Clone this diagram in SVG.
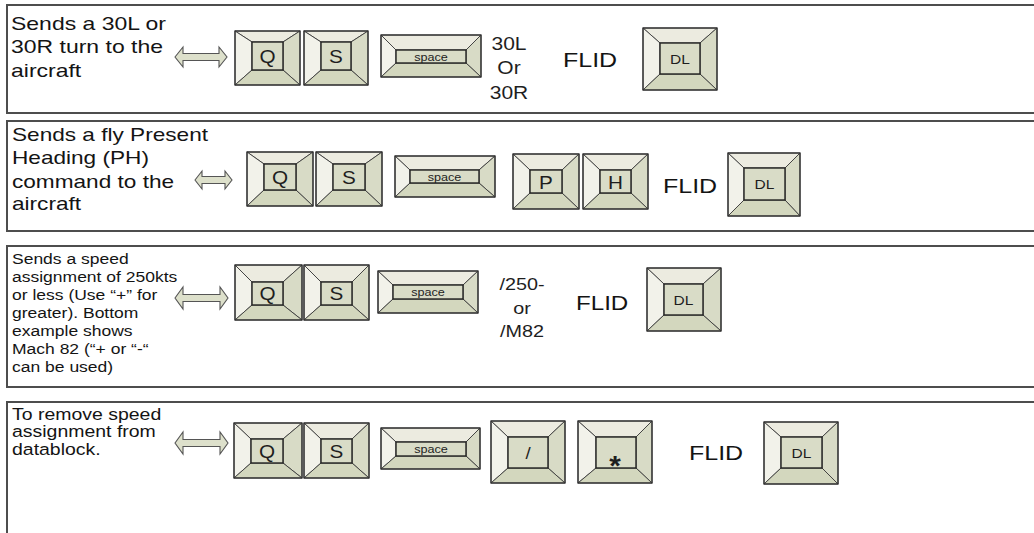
<svg xmlns="http://www.w3.org/2000/svg" width="1034" height="533" viewBox="0 0 1034 533">
<style>
.row{fill:#fff;stroke:#4d4d4d;stroke-width:2}
.kt{fill:#ecebe0;stroke:#3a3a3a;stroke-width:0.9}
.kl{fill:#f2f2ea;stroke:#3a3a3a;stroke-width:0.9}
.kr{fill:#d8dbc6;stroke:#3a3a3a;stroke-width:0.9}
.kb{fill:#d3d7be;stroke:#3a3a3a;stroke-width:0.9}
.kf{fill:#d9dcc7;stroke:#222;stroke-width:1.4}
.ko{fill:none;stroke:#333;stroke-width:1.3}
.t{font-family:"Liberation Sans",Arial,sans-serif;fill:#141414}
.kt1{font-family:"Liberation Sans",Arial,sans-serif;fill:#1e1e1e;text-anchor:middle}
.arr{fill:#dde0cb;stroke:#555;stroke-width:1.1}
</style>

<g id="rows">
<rect class="row" x="7" y="5" width="1040" height="108"/>
<rect class="row" x="7" y="121" width="1040" height="110"/>
<rect class="row" x="7" y="246" width="1040" height="141"/>
<rect class="row" x="7" y="402" width="1040" height="150"/>
</g>

<g id="connectors">
<path class="arr" d="M175,57 L183,47 L183,53.5 L219,53.5 L219,47 L227,57 L219,67 L219,60.5 L183,60.5 L183,67 Z"/>
<path class="arr" d="M195,180 L202,171 L202,176.5 L225,176.5 L225,171 L232,180 L225,189 L225,183.5 L202,183.5 L202,189 Z"/>
<path class="arr" d="M175,298 L183,287 L183,294.5 L220,294.5 L220,287 L228,298 L220,309 L220,301.5 L183,301.5 L183,309 Z"/>
<path class="arr" d="M175,443 L183,432 L183,439.5 L220,439.5 L220,432 L228,443 L220,454 L220,446.5 L183,446.5 L183,454 Z"/>
</g>

<!-- Row 1 -->
<g id="desc1"><text class="t" font-size="19" transform="translate(11,30) scale(1.21,1)"><tspan x="0" y="0">Sends a 30L or</tspan><tspan x="0" y="23.5">30R turn to the</tspan><tspan x="0" y="47">aircraft</tspan></text></g>
<g id="r1-q">
<polygon class="kt" points="235,31 300,31 283,42 252,42"/><polygon class="kl" points="235,31 252,42 252,70 235,85"/><polygon class="kr" points="300,31 300,85 283,70 283,42"/><polygon class="kb" points="235,85 252,70 283,70 300,85"/><rect class="kf" x="252" y="42" width="31" height="28"/><rect class="ko" x="235" y="31" width="65" height="54"/>
<text class="kt1" font-size="18" transform="translate(267.5,62.5) scale(1.15,1)">Q</text></g>
<g id="r1-s">
<polygon class="kt" points="304,31 368,31 351,42 321,42"/><polygon class="kl" points="304,31 321,42 321,70 304,85"/><polygon class="kr" points="368,31 368,85 351,70 351,42"/><polygon class="kb" points="304,85 321,70 351,70 368,85"/><rect class="kf" x="321" y="42" width="30" height="28"/><rect class="ko" x="304" y="31" width="64" height="54"/>
<text class="kt1" font-size="18" transform="translate(336,62.5) scale(1.15,1)">S</text></g>
<g id="r1-space">
<polygon class="kt" points="381,35 481,35 466,50 396,50"/><polygon class="kl" points="381,35 396,50 396,63 381,77"/><polygon class="kr" points="481,35 481,77 466,63 466,50"/><polygon class="kb" points="381,77 396,63 466,63 481,77"/><rect class="kf" x="396" y="50" width="70" height="13"/><rect class="ko" x="381" y="35" width="100" height="42"/>
<text class="kt1" font-size="11" transform="translate(431,60.5) scale(1.15,1)">space</text></g>
<g id="r1-val"><text class="kt1" font-size="17.5" transform="translate(509,0) scale(1.2,1)"><tspan x="0" y="50">30L</tspan><tspan x="0" y="74">Or</tspan><tspan x="0" y="99">30R</tspan></text></g>
<g id="r1-flid"><text class="t" font-size="21" transform="translate(563,67) scale(1.19,1)">FLID</text></g>
<g id="r1-dl">
<polygon class="kt" points="643,28 717,28 700,43 660,43"/><polygon class="kl" points="643,28 660,43 660,74 643,90"/><polygon class="kr" points="717,28 717,90 700,74 700,43"/><polygon class="kb" points="643,90 660,74 700,74 717,90"/><rect class="kf" x="660" y="43" width="40" height="31"/><rect class="ko" x="643" y="28" width="74" height="62"/>
<text class="kt1" font-size="13.5" transform="translate(680,63.5) scale(1.15,1)">DL</text></g>

<!-- Row 2 -->
<g id="desc2"><text class="t" font-size="19" transform="translate(12,141) scale(1.19,1)"><tspan x="0" y="0">Sends a fly Present</tspan><tspan x="0" y="23">Heading (PH)</tspan><tspan x="0" y="47">command to the</tspan><tspan x="0" y="69">aircraft</tspan></text></g>
<g id="r2-q">
<polygon class="kt" points="247,152 313,152 296,164 264,164"/><polygon class="kl" points="247,152 264,164 264,190 247,206"/><polygon class="kr" points="313,152 313,206 296,190 296,164"/><polygon class="kb" points="247,206 264,190 296,190 313,206"/><rect class="kf" x="264" y="164" width="32" height="26"/><rect class="ko" x="247" y="152" width="66" height="54"/>
<text class="kt1" font-size="18" transform="translate(280,183.5) scale(1.15,1)">Q</text></g>
<g id="r2-s">
<polygon class="kt" points="316,152 382,152 365,164 333,164"/><polygon class="kl" points="316,152 333,164 333,190 316,206"/><polygon class="kr" points="382,152 382,206 365,190 365,164"/><polygon class="kb" points="316,206 333,190 365,190 382,206"/><rect class="kf" x="333" y="164" width="32" height="26"/><rect class="ko" x="316" y="152" width="66" height="54"/>
<text class="kt1" font-size="18" transform="translate(349,183.5) scale(1.15,1)">S</text></g>
<g id="r2-space">
<polygon class="kt" points="395,156 495,156 479,170 410,170"/><polygon class="kl" points="395,156 410,170 410,183 395,197"/><polygon class="kr" points="495,156 495,197 479,183 479,170"/><polygon class="kb" points="395,197 410,183 479,183 495,197"/><rect class="kf" x="410" y="170" width="69" height="13"/><rect class="ko" x="395" y="156" width="100" height="41"/>
<text class="kt1" font-size="11" transform="translate(444.5,180.5) scale(1.15,1)">space</text></g>
<g id="r2-p">
<polygon class="kt" points="513,154 579,154 562,170 530,170"/><polygon class="kl" points="513,154 530,170 530,193 513,209"/><polygon class="kr" points="579,154 579,209 562,193 562,170"/><polygon class="kb" points="513,209 530,193 562,193 579,209"/><rect class="kf" x="530" y="170" width="32" height="23"/><rect class="ko" x="513" y="154" width="66" height="55"/>
<text class="kt1" font-size="18" transform="translate(546,188.5) scale(1.15,1)">P</text></g>
<g id="r2-h">
<polygon class="kt" points="583,154 648,154 631,170 600,170"/><polygon class="kl" points="583,154 600,170 600,193 583,209"/><polygon class="kr" points="648,154 648,209 631,193 631,170"/><polygon class="kb" points="583,209 600,193 631,193 648,209"/><rect class="kf" x="600" y="170" width="31" height="23"/><rect class="ko" x="583" y="154" width="65" height="55"/>
<text class="kt1" font-size="18" transform="translate(615.5,188.5) scale(1.15,1)">H</text></g>
<g id="r2-flid"><text class="t" font-size="21" transform="translate(663,193) scale(1.19,1)">FLID</text></g>
<g id="r2-dl">
<polygon class="kt" points="728,153 800,153 785,168 744,168"/><polygon class="kl" points="728,153 744,168 744,200 728,216"/><polygon class="kr" points="800,153 800,216 785,200 785,168"/><polygon class="kb" points="728,216 744,200 785,200 800,216"/><rect class="kf" x="744" y="168" width="41" height="32"/><rect class="ko" x="728" y="153" width="72" height="63"/>
<text class="kt1" font-size="13.5" transform="translate(764.5,189) scale(1.15,1)">DL</text></g>

<!-- Row 3 -->
<g id="desc3"><text class="t" font-size="15.5" transform="translate(12,264) scale(1.13,1)"><tspan x="0" y="0">Sends a speed</tspan><tspan x="0" y="18">assignment of 250kts</tspan><tspan x="0" y="36">or less (Use “+” for</tspan><tspan x="0" y="54">greater). Bottom</tspan><tspan x="0" y="72">example shows</tspan><tspan x="0" y="90">Mach 82 (“+ or “-“</tspan><tspan x="0" y="108">can be used)</tspan></text></g>
<g id="r3-q">
<polygon class="kt" points="235,265 302,265 283,282 252,282"/><polygon class="kl" points="235,265 252,282 252,305 235,320"/><polygon class="kr" points="302,265 302,320 283,305 283,282"/><polygon class="kb" points="235,320 252,305 283,305 302,320"/><rect class="kf" x="252" y="282" width="31" height="23"/><rect class="ko" x="235" y="265" width="67" height="55"/>
<text class="kt1" font-size="18" transform="translate(267.5,300) scale(1.15,1)">Q</text></g>
<g id="r3-s">
<polygon class="kt" points="304,265 369,265 352,282 321,282"/><polygon class="kl" points="304,265 321,282 321,305 304,320"/><polygon class="kr" points="369,265 369,320 352,305 352,282"/><polygon class="kb" points="304,320 321,305 352,305 369,320"/><rect class="kf" x="321" y="282" width="31" height="23"/><rect class="ko" x="304" y="265" width="65" height="55"/>
<text class="kt1" font-size="18" transform="translate(336.5,300) scale(1.15,1)">S</text></g>
<g id="r3-space">
<polygon class="kt" points="378,271 478,271 463,285 393,285"/><polygon class="kl" points="378,271 393,285 393,299 378,313"/><polygon class="kr" points="478,271 478,313 463,299 463,285"/><polygon class="kb" points="378,313 393,299 463,299 478,313"/><rect class="kf" x="393" y="285" width="70" height="14"/><rect class="ko" x="378" y="271" width="100" height="42"/>
<text class="kt1" font-size="11" transform="translate(428,295.5) scale(1.15,1)">space</text></g>
<g id="r3-val"><text class="kt1" font-size="16.5" transform="translate(522,0) scale(1.2,1)"><tspan x="0" y="290">/250-</tspan><tspan x="0" y="314">or</tspan><tspan x="0" y="337">/M82</tspan></text></g>
<g id="r3-flid"><text class="t" font-size="21" transform="translate(576,310) scale(1.15,1)">FLID</text></g>
<g id="r3-dl">
<polygon class="kt" points="647,268 721,268 703,284 664,284"/><polygon class="kl" points="647,268 664,284 664,315 647,331"/><polygon class="kr" points="721,268 721,331 703,315 703,284"/><polygon class="kb" points="647,331 664,315 703,315 721,331"/><rect class="kf" x="664" y="284" width="39" height="31"/><rect class="ko" x="647" y="268" width="74" height="63"/>
<text class="kt1" font-size="13.5" transform="translate(683.5,304.5) scale(1.15,1)">DL</text></g>

<!-- Row 4 -->
<g id="desc4"><text class="t" font-size="16.5" transform="translate(12,420) scale(1.18,1)"><tspan x="0" y="0">To remove speed</tspan><tspan x="0" y="17.5">assignment from</tspan><tspan x="0" y="35">datablock.</tspan></text></g>
<g id="r4-q">
<polygon class="kt" points="234,423 302,423 283,439 251,439"/><polygon class="kl" points="234,423 251,439 251,463 234,478"/><polygon class="kr" points="302,423 302,478 283,463 283,439"/><polygon class="kb" points="234,478 251,463 283,463 302,478"/><rect class="kf" x="251" y="439" width="32" height="24"/><rect class="ko" x="234" y="423" width="68" height="55"/>
<text class="kt1" font-size="18" transform="translate(267,458) scale(1.15,1)">Q</text></g>
<g id="r4-s">
<polygon class="kt" points="304,423 369,423 352,439 321,439"/><polygon class="kl" points="304,423 321,439 321,463 304,478"/><polygon class="kr" points="369,423 369,478 352,463 352,439"/><polygon class="kb" points="304,478 321,463 352,463 369,478"/><rect class="kf" x="321" y="439" width="31" height="24"/><rect class="ko" x="304" y="423" width="65" height="55"/>
<text class="kt1" font-size="18" transform="translate(336.5,458) scale(1.15,1)">S</text></g>
<g id="r4-space">
<polygon class="kt" points="381,428 480,428 466,442 396,442"/><polygon class="kl" points="381,428 396,442 396,456 381,469"/><polygon class="kr" points="480,428 480,469 466,456 466,442"/><polygon class="kb" points="381,469 396,456 466,456 480,469"/><rect class="kf" x="396" y="442" width="70" height="14"/><rect class="ko" x="381" y="428" width="99" height="41"/>
<text class="kt1" font-size="11" transform="translate(431,452.5) scale(1.15,1)">space</text></g>
<g id="r4-slash">
<polygon class="kt" points="491,421 565,421 548,437 508,437"/><polygon class="kl" points="491,421 508,437 508,468 491,483"/><polygon class="kr" points="565,421 565,483 548,468 548,437"/><polygon class="kb" points="491,483 508,468 548,468 565,483"/><rect class="kf" x="508" y="437" width="40" height="31"/><rect class="ko" x="491" y="421" width="74" height="62"/>
<text class="kt1" font-size="17" transform="translate(528,459) scale(1.1,1)">/</text></g>
<g id="r4-star">
<polygon class="kt" points="578,421 652,421 636,437 596,437"/><polygon class="kl" points="578,421 596,437 596,468 578,483"/><polygon class="kr" points="652,421 652,483 636,468 636,437"/><polygon class="kb" points="578,483 596,468 636,468 652,483"/><rect class="kf" x="596" y="437" width="40" height="31"/><rect class="ko" x="578" y="421" width="74" height="62"/>
<text class="kt1" font-size="27" font-weight="bold" transform="translate(615,475) scale(1.1,1)">*</text></g>
<g id="r4-flid"><text class="t" font-size="21" transform="translate(689,460) scale(1.19,1)">FLID</text></g>
<g id="r4-dl">
<polygon class="kt" points="764,422 838,422 822,437 781,437"/><polygon class="kl" points="764,422 781,437 781,468 764,484"/><polygon class="kr" points="838,422 838,484 822,468 822,437"/><polygon class="kb" points="764,484 781,468 822,468 838,484"/><rect class="kf" x="781" y="437" width="41" height="31"/><rect class="ko" x="764" y="422" width="74" height="62"/>
<text class="kt1" font-size="13.5" transform="translate(801.5,457.5) scale(1.15,1)">DL</text></g>
</svg>
